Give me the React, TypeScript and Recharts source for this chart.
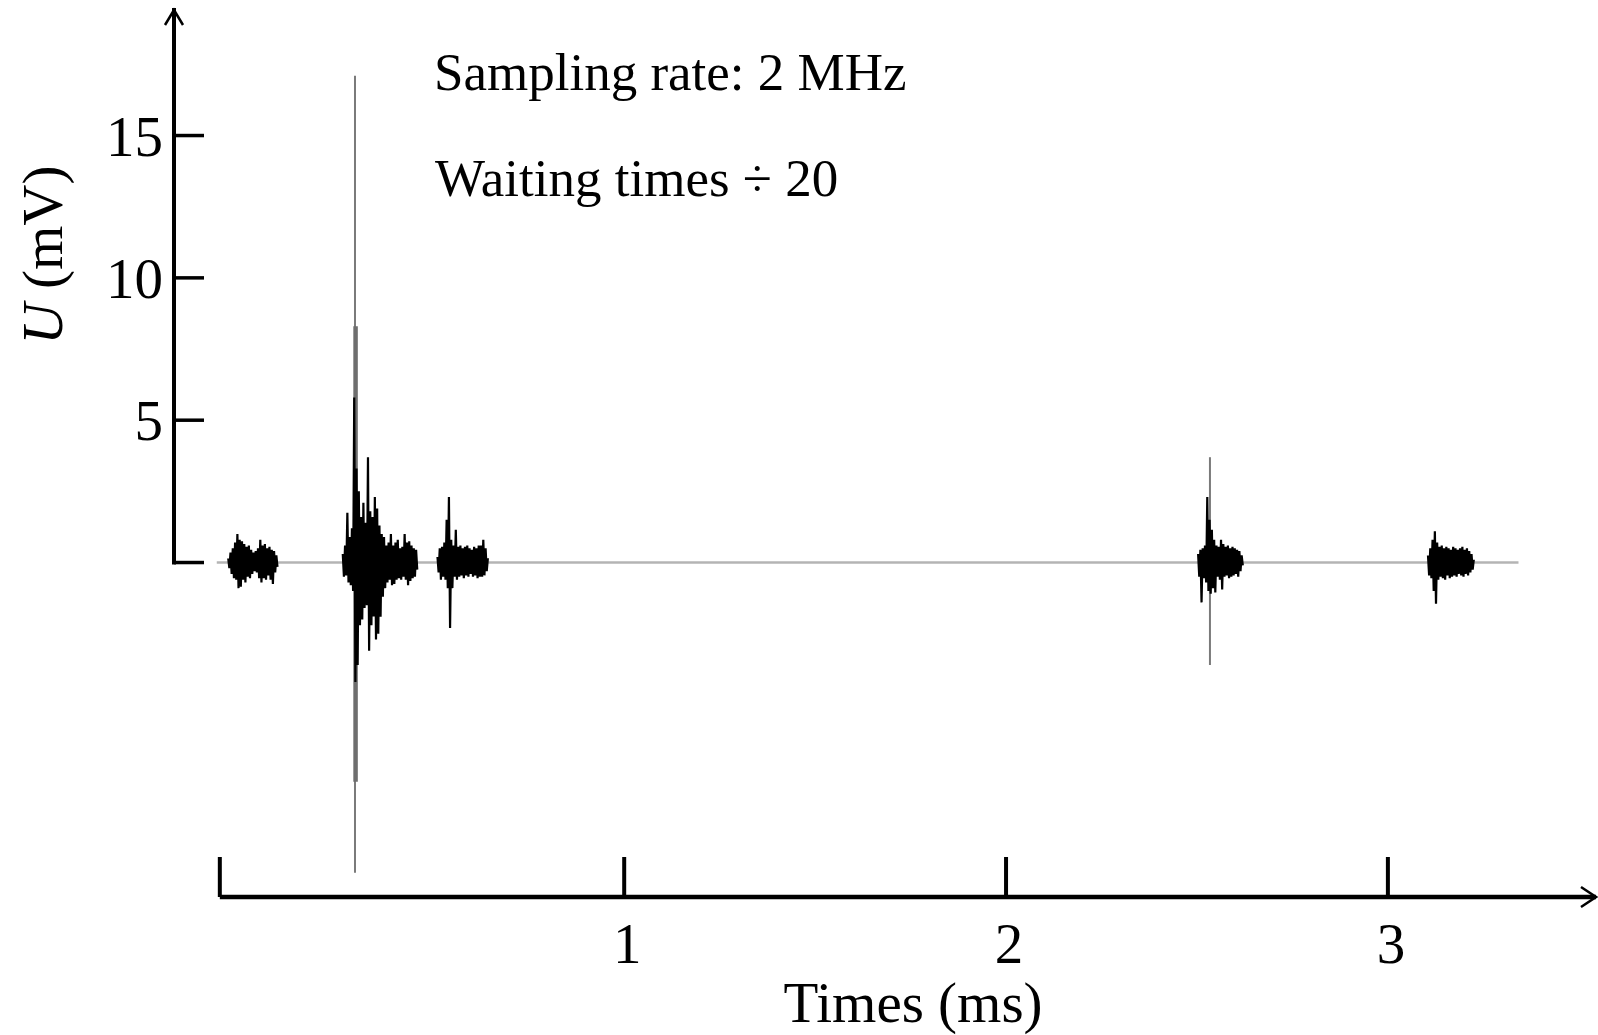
import { ComposedChart, Line, XAxis, YAxis, ReferenceLine, Customized } from "recharts";

const SERIF = '"Liberation Serif", "Times New Roman", serif';

const X_MIN = -0.179;
const X_MAX = 3.545;
const Y_MIN = -11.75;
const Y_MAX = 19.41;
const X_AXIS_START = -0.059;
const X_TICKS = [X_AXIS_START, 1, 2, 3];
const Y_TICKS = [0, 5, 10, 15];

// zero line of the recording
const BASELINE_START = -0.067;
const BASELINE_END = 3.342;

// ms between plotted samples (decimated trace)
const STEP = 0.003;

const BURST_STARTS = [-0.037, 0.263, 0.511, 2.503, 3.105];

const BURST_A = [
  0.15, -0.2, 0.35, -0.4, 0.5, -0.55, 0.7, -0.6, 1.0, -0.9,
  0.8, -0.85, 0.75, -0.6, 0.65, -0.7, 0.55, -0.5, 0.6, -0.55,
  0.45, -0.4, 0.35, -0.3, 0.4, -0.35, 0.5, -0.55, 0.8, -0.7,
  0.6, -0.55, 0.65, -0.6, 0.5, -0.45, 0.55, -0.6, 0.45, -0.75,
  0.4, -0.35, 0.25, -0.15,
];

const BURST_B = [
  0.3, -0.5, 0.6, -0.45, 1.75, -0.7, 0.9, -0.8, 1.2, -1.0,
  5.8, -4.2, 3.3, -3.6, 2.5,
  -2.2, 1.6, -2.0, 2.1, -1.6, 1.4, -1.5, 3.7, -3.1, 1.8,
  -2.2, 1.6, -1.9, 2.3, -2.7, 1.9, -2.5, 1.3, -1.9, 1.0, -1.2, 0.9,
  -0.9, 0.6, -0.7, 0.7, -0.6, 1.0, -0.8, 0.6, -0.75, 0.7,
  -0.6, 0.8, -0.55, 0.5, -0.6, 0.55, -0.5, 1.0, -0.6, 0.7,
  -0.8, 0.75, -0.65, 0.6, -0.55, 0.5, -0.5, 0.45, -0.25,
];

const BURST_C = [
  0.2, -0.35, 0.5, -0.6, 0.55, -0.5, 0.7, -0.6, 1.5, -0.9,
  2.3, -2.3, 0.8, -0.9, 0.6, -0.5, 1.15, -0.6, 0.55, -0.5,
  0.6, -0.45, 0.5, -0.55, 0.55, -0.45, 0.6, -0.5, 0.5, -0.4,
  0.45, -0.5, 0.55, -0.45, 0.5, -0.55, 0.6, -0.5, 0.6, -0.5,
  0.8, -0.45, 0.5, -0.3, 0.15,
];

const BURST_D = [
  0.3, -0.5, 0.45, -1.4, 0.5, -0.55, 0.6, -0.7, 2.3, -1.0,
  1.5, -1.1, 1.15, -0.9, 0.8, -1.05, 0.6, -0.5, 0.55, -0.6,
  0.8, -0.95, 0.65, -0.5, 0.55, -0.45, 0.6, -0.55, 0.5, -0.5,
  0.55, -0.45, 0.5, -0.4, 0.45, -0.5, 0.4, -0.3, 0.25, -0.1,
];

const BURST_E = [
  0.25, -0.45, 0.5, -0.55, 0.8, -1.0, 1.1, -1.45, 0.7, -0.6,
  0.55, -0.5, 0.6, -0.55, 0.5, -0.6, 0.55, -0.45, 0.5, -0.55,
  0.45, -0.5, 0.55, -0.45, 0.5, -0.5, 0.45, -0.4, 0.5, -0.45,
  0.55, -0.5, 0.45, -0.4, 0.5, -0.45, 0.4, -0.35, 0.3, -0.25,
  0.1,
];

const BURSTS = [BURST_A, BURST_B, BURST_C, BURST_D, BURST_E];

// single-sample extremes, drawn lighter
const SPIKE_T = [0.295, 2.534];
const SPIKE_TOP = [17.1, 3.7];
const SPIKE_BOTTOM = [-10.9, -3.6];
const CORE_T = [0.2965];
const CORE_TOP = [8.3];
const CORE_BOTTOM = [-7.7];

const burstData = BURSTS.map((vals, b) =>
  vals.map((u, i) => ({ t: BURST_STARTS[b] + i * STEP, u }))
);
const spikeData = SPIKE_T.map((t, i) => [
  { t, u: SPIKE_TOP[i] },
  { t, u: SPIKE_BOTTOM[i] },
]);
const coreData = CORE_T.map((t, i) => [
  { t, u: CORE_TOP[i] },
  { t, u: CORE_BOTTOM[i] },
]);
const baselineData = [
  { t: BASELINE_START, u: 0 },
  { t: BASELINE_END, u: 0 },
];

function XTick({ x, y, payload }: any) {
  return (
    <g>
      <line x1={x} x2={x} y1={y - 40} y2={y} stroke="#000" strokeWidth={4} />
      {payload.value !== X_AXIS_START && (
        <text x={x + 3} y={y + 66} textAnchor="middle" fontSize={57} fontFamily={SERIF} fill="#000">
          {payload.value}
        </text>
      )}
    </g>
  );
}

function YTick({ x, y, payload }: any) {
  return (
    <g>
      <line x1={x} x2={x + 30} y1={y} y2={y} stroke="#000" strokeWidth={3.5} />
      {payload.value !== 0 && (
        <text x={x - 11} y={y} dy={20} textAnchor="end" fontSize={57} fontFamily={SERIF} fill="#000">
          {payload.value}
        </text>
      )}
    </g>
  );
}

function ArrowRight(props: any) {
  const { x1, y1, x2, y2 } = props;
  return (
    <g stroke="#000" fill="none">
      <line x1={x1} y1={y1} x2={x2} y2={y2} strokeWidth={4.5} />
      <polyline points={`${x2 - 15},${y2 - 10} ${x2},${y2} ${x2 - 15},${y2 + 10}`} strokeWidth={2.5} />
    </g>
  );
}

function ArrowUp(props: any) {
  const { x1, y1, x2, y2 } = props;
  return (
    <g stroke="#000" fill="none">
      <line x1={x1} y1={y1} x2={x2} y2={y2} strokeWidth={4} strokeLinecap="square" />
      <polyline points={`${x2 - 9},${y2 + 15} ${x2},${y2} ${x2 + 9},${y2 + 15}`} strokeWidth={2.5} />
    </g>
  );
}

function Texts() {
  return (
    <g fontFamily={SERIF} fill="#000">
      <text x={434} y={90} fontSize={53}>Sampling rate: 2 MHz</text>
      <text x={435} y={196} fontSize={53}>Waiting times ÷ 20</text>
      <text x={913} y={1022} fontSize={57} textAnchor="middle">Times (ms)</text>
      <text transform="translate(62,255) rotate(-90)" textAnchor="middle" fontSize={57}>
        <tspan fontStyle="italic">U</tspan> (mV)
      </text>
    </g>
  );
}

export default function App() {
  return (
    <div style={{ position: "absolute", left: 0, top: 0, background: "#fff" }}>
      <ComposedChart width={1598} height={1035} margin={{ top: 10, right: 2, bottom: 8, left: 74 }}>
        <XAxis
          type="number"
          dataKey="t"
          domain={[X_MIN, X_MAX]}
          ticks={X_TICKS}
          allowDataOverflow
          axisLine={false}
          tickLine={false}
          tickSize={0}
          tickMargin={0}
          height={130}
          interval={0}
          tick={<XTick />}
        />
        <YAxis
          type="number"
          domain={[Y_MIN, Y_MAX]}
          ticks={Y_TICKS}
          allowDataOverflow
          axisLine={false}
          tickLine={false}
          tickSize={0}
          tickMargin={0}
          width={100}
          interval={0}
          tick={<YTick />}
        />
        <ReferenceLine
          segment={[{ x: X_AXIS_START, y: Y_MIN }, { x: X_MAX, y: Y_MIN }]}
          ifOverflow="visible"
          shape={<ArrowRight />}
        />
        <ReferenceLine
          segment={[{ x: X_MIN, y: 0 }, { x: X_MIN, y: Y_MAX }]}
          ifOverflow="visible"
          shape={<ArrowUp />}
        />
        <Line
          data={baselineData}
          dataKey="u"
          stroke="#b4b4b4"
          strokeWidth={2.5}
          dot={false}
          isAnimationActive={false}
        />
        {spikeData.map((d, i) => (
          <Line
            key={"s" + i}
            data={d}
            dataKey="u"
            stroke="#7a7a7a"
            strokeWidth={2}
            dot={false}
            isAnimationActive={false}
          />
        ))}
        {coreData.map((d, i) => (
          <Line
            key={"c" + i}
            data={d}
            dataKey="u"
            stroke="#6e6e6e"
            strokeWidth={4.5}
            dot={false}
            isAnimationActive={false}
          />
        ))}
        {burstData.map((d, i) => (
          <Line
            key={"b" + i}
            data={d}
            dataKey="u"
            stroke="#000"
            strokeWidth={2.2}
            dot={false}
            isAnimationActive={false}
          />
        ))}
        <Customized component={<Texts />} />
      </ComposedChart>
    </div>
  );
}
